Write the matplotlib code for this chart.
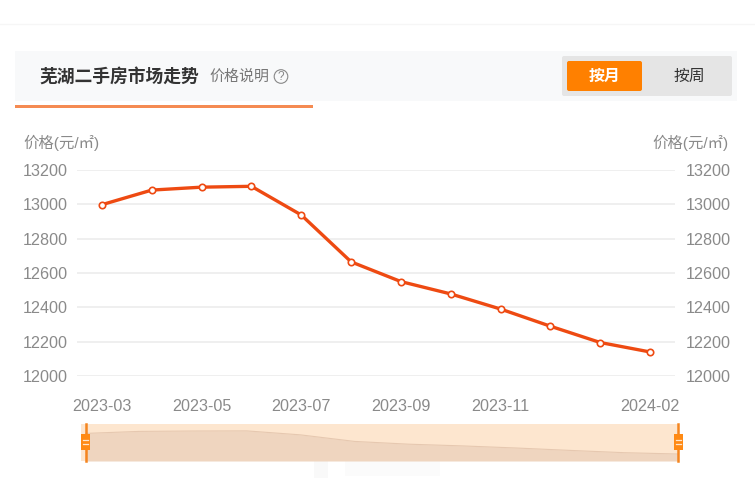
import matplotlib
matplotlib.use('Agg')
import matplotlib.pyplot as plt
from matplotlib.patches import Rectangle, FancyBboxPatch, Circle

plt.rcParams['font.family'] = ['Liberation Sans', 'Noto Sans CJK SC', 'DejaVu Sans']

W, H = 755, 487

months = ['2023-03', '2023-04', '2023-05', '2023-06', '2023-07', '2023-08',
          '2023-09', '2023-10', '2023-11', '2023-12', '2024-01', '2024-02']
prices = [12998, 13083, 13100, 13105, 12938, 12665, 12550, 12478, 12390, 12290, 12195, 12140]
y_ticks = [12000, 12200, 12400, 12600, 12800, 13000, 13200]
x_tick_idx = [0, 2, 4, 6, 8, 11]

LINE = '#ee4a12'
TICK = '#8a8a8a'


def px_axes(fig, left, top, right, bottom):
    # axes rectangle given in image pixels
    return fig.add_axes([left / W, 1 - bottom / H, (right - left) / W, (bottom - top) / H])


fig = plt.figure(figsize=(W / 100, H / 100), dpi=100, facecolor='white')

# page furniture, drawn in pixel coordinates
bg = fig.add_axes([0, 0, 1, 1])
bg.set_xlim(0, W)
bg.set_ylim(H, 0)
bg.axis('off')
bg.plot([0, W], [24, 24], color='#f6f6f6', lw=1)
bg.add_patch(Rectangle((15, 51), 722, 50, fc='#f8f9fa', ec='none'))
bg.add_patch(Rectangle((15, 105.4), 298, 2.2, fc='#f58b52', ec='none'))
bg.text(39.5, 76.5, '芜湖二手房市场走势', fontsize=12.8, fontweight='bold', color='#333333', ha='left', va='center')
bg.text(209, 76.5, '价格说明', fontsize=10.8, color='#777777', ha='left', va='center')
bg.add_patch(Circle((281, 76.5), 6.8, fc='none', ec='#888888', lw=0.8))
bg.text(281, 76.5, '?', fontsize=8.5, color='#888888', ha='center', va='center')
bg.add_patch(FancyBboxPatch((562, 56), 170, 40, boxstyle='round,pad=0,rounding_size=2', fc='#e5e5e5', ec='none'))
bg.add_patch(FancyBboxPatch((567, 61), 75, 30, boxstyle='round,pad=0,rounding_size=2', fc='#ff8000', ec='none'))
bg.text(604.5, 76, '按月', fontsize=11.4, fontweight='bold', color='white', ha='center', va='center')
bg.text(689, 76, '按周', fontsize=11.4, color='#333333', ha='center', va='center')
bg.text(23.5, 142.5, '价格(元/㎡)', fontsize=11.1, color=TICK, ha='left', va='center')
bg.text(729, 142.5, '价格(元/㎡)', fontsize=11.1, color=TICK, ha='right', va='center')

# blurred smudge under the slider
bg.add_patch(Rectangle((314, 461), 14, 17, fc='#f9f9f9', ec='none'))
bg.add_patch(Rectangle((345, 461), 95, 15, fc='#fbfbfb', ec='none'))

# main chart
ax = px_axes(fig, 77, 170, 675, 376)
ax.patch.set_alpha(0)
ax.plot(range(len(prices)), prices, color=LINE, lw=2.4, marker='o', ms=4.6,
        mfc='white', mec=LINE, mew=1.2, zorder=3, clip_on=False)
ax.set_xlim(-0.5, 11.5)
ax.set_ylim(12000, 13200)
ax.set_yticks(y_ticks)
ax.set_xticks(x_tick_idx)
ax.set_xticklabels([months[i] for i in x_tick_idx])
ax.grid(axis='y', color='#eeeeee', lw=1.3)
ax.set_axisbelow(True)
for s in ax.spines.values():
    s.set_visible(False)
ax.tick_params(axis='both', length=0, labelsize=11.6, labelcolor=TICK)
ax.tick_params(axis='x', pad=16.5)
ax.tick_params(axis='y', pad=6.5)

ax_r = ax.twinx()
ax_r.set_ylim(12000, 13200)
ax_r.set_yticks(y_ticks)
for s in ax_r.spines.values():
    s.set_visible(False)
ax_r.tick_params(axis='y', length=0, labelsize=11.6, labelcolor=TICK, pad=8)
for lab in ax.get_yticklabels() + ax_r.get_yticklabels():
    lab.set_verticalalignment('center_baseline')

# range slider under the chart
sl = px_axes(fig, 85, 423.5, 678, 461)
sl.set_xlim(0, 11)
sl.set_ylim(11848, 13413)
sl.axis('off')
sl.patch.set_alpha(0)
sl.add_patch(Rectangle((-0.074, 11848), 11.074, 1565, fc='#fde6cf', ec='none', zorder=1, clip_on=False))
sl.fill_between(range(len(prices)), 11848, prices, color='#efd5bf', lw=0, zorder=2)
sl.plot(range(len(prices)), prices, color='#e6c8b0', lw=0.8, zorder=3)

# slider handles
handles = fig.add_axes([0, 0, 1, 1])
handles.set_xlim(0, W)
handles.set_ylim(H, 0)
handles.axis('off')
handles.patch.set_alpha(0)
for hx in (85.5, 678):
    handles.plot([hx, hx], [423.5, 461], color='#f5851f', lw=1.8, zorder=6)
    handles.add_patch(Rectangle((hx - 4.5, 434), 9, 16, fc='#ff8a14', ec='none', zorder=7))
    handles.plot([hx - 2.5, hx + 2.5], [440, 440], color='#ffe6cc', lw=0.9, zorder=8)
    handles.plot([hx - 2.5, hx + 2.5], [444, 444], color='#ffe6cc', lw=0.9, zorder=8)

fig.savefig('out.png', dpi=100)
